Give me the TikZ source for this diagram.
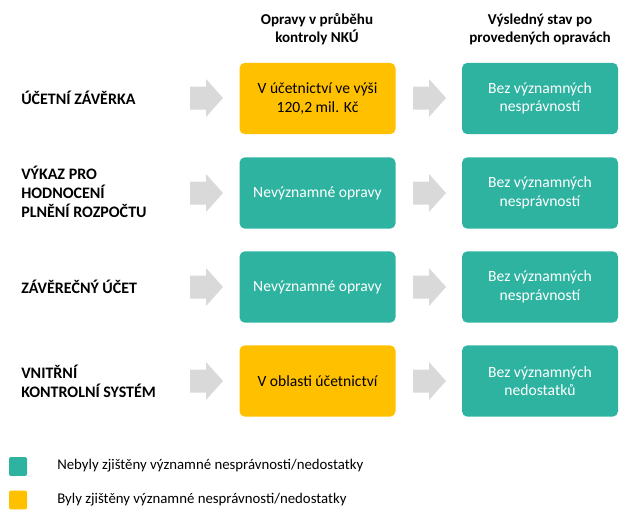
\documentclass[tikz,border=0pt]{standalone}
\usepackage{fontspec}
\setmainfont{Carlito}
\usetikzlibrary{positioning}
\definecolor{zelena}{RGB}{46,179,161}
\definecolor{zluta}{RGB}{255,192,0}
\definecolor{seda}{RGB}{217,217,217}
\tikzset{
  pole/.style={rounded corners=4pt,minimum width=117pt,minimum height=53.5pt,
    text=white,align=center,font=\fontsize{11.7}{13.8}\selectfont,inner sep=0pt},
  hlava/.style={font=\fontsize{11.3}{13.6}\selectfont\bfseries,align=center},
  radek/.style={font=\fontsize{12}{14}\selectfont\bfseries,align=left,anchor=west,inner sep=0pt},
  popis/.style={font=\fontsize{11.1}{13.5}\selectfont,anchor=west,inner sep=0pt},
  ctverec/.style={rounded corners=1.5pt,minimum width=13.5pt,minimum height=14.2pt,inner sep=0pt}
}
\begin{document}
\begin{tikzpicture}[x=0.75pt,y=-0.75pt]
  \useasboundingbox (0,0) rectangle (633,525);

  % zahlavi sloupcu
  \node[hlava] (h1) at (317,29) {Opravy v průběhu\\kontroly NKÚ};
  \node[hlava] (h2) at (540,29) {Výsledný stav po\\provedených opravách};

  % radky
  \node[radek] (r1) at (21,98) {ÚČETNÍ ZÁVĚRKA};
  \node[radek] (r2) at (21,192) {VÝKAZ PRO\\HODNOCENÍ\\PLNĚNÍ ROZPOČTU};
  \node[radek] (r3) at (21,287) {ZÁVĚREČNÝ ÚČET};
  \node[radek] (r4) at (21,381) {VNITŘNÍ\\KONTROLNÍ SYSTÉM};

  % prostredni sloupec
  \node[pole,fill=zluta,text=black] (o1) at (317.5,98.5) {V účetnictví ve výši\\120,2 mil. Kč};
  \node[pole,fill=zelena] (o2) at (317.5,193) {Nevýznamné opravy};
  \node[pole,fill=zelena] (o3) at (317.5,287) {Nevýznamné opravy};
  \node[pole,fill=zluta,text=black] (o4) at (317.5,381) {V oblasti účetnictví};

  % pravy sloupec
  \node[pole,fill=zelena] (s1) at (540,98.5) {Bez významných\\nesprávností};
  \node[pole,fill=zelena] (s2) at (540,193) {Bez významných\\nesprávností};
  \node[pole,fill=zelena] (s3) at (540,287) {Bez významných\\nesprávností};
  \node[pole,fill=zelena] (s4) at (540,381) {Bez významných\\nedostatků};

  % sipky
  \foreach \y in {98,193,287,381}{
    \foreach \x in {190,413}{
      \fill[seda] (\x,\y-11.5) -- (\x+16,\y-11.5) -- (\x+16,\y-19) -- (\x+33,\y)
        -- (\x+16,\y+19) -- (\x+16,\y+11.5) -- (\x,\y+11.5) -- cycle;
    }
  }

  % legenda
  \node[ctverec,fill=zelena] (l1) at (18,466.5) {};
  \node[ctverec,fill=zluta] (l2) at (18,500) {};
  \node[popis] (p1) at (57,466) {Nebyly zjištěny významné nesprávnosti/nedostatky};
  \node[popis] (p2) at (57,499.5) {Byly zjištěny významné nesprávnosti/nedostatky};
\end{tikzpicture}
\end{document}
